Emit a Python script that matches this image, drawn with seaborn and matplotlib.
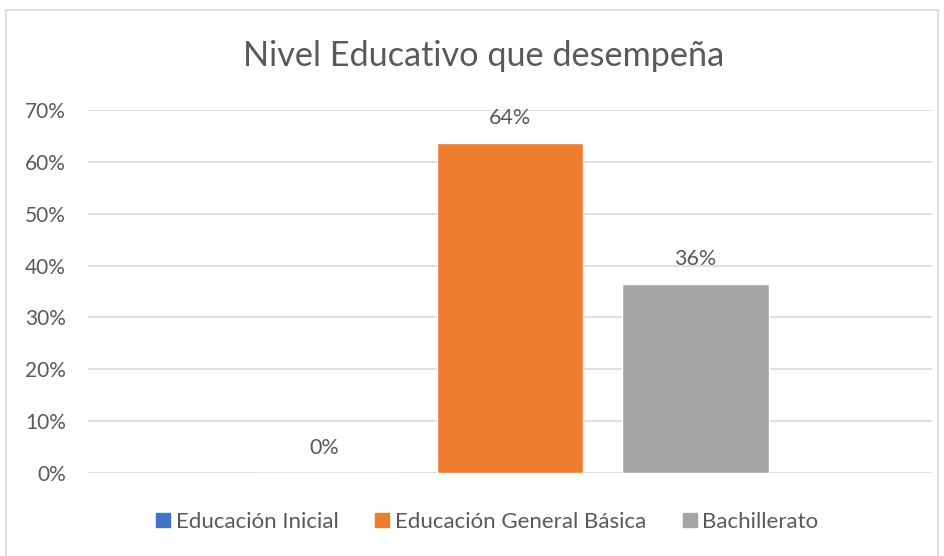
import matplotlib
matplotlib.use("Agg")
import matplotlib.pyplot as plt
import seaborn as sns
import pandas as pd
from matplotlib.patches import Rectangle

categories = ["Nivel"]
series = ["Educación Inicial", "Educación General Básica", "Bachillerato"]
values = [0.0, 7 / 11, 4 / 11]
colors = ["#4472C4", "#ED7D31", "#A5A5A5"]
title = "Nivel Educativo que desempeña"
yticks = [0, 0.1, 0.2, 0.3, 0.4, 0.5, 0.6, 0.7]

sns.set_theme(style="white")
plt.rcParams["font.family"] = ["Lato", "DejaVu Sans"]
txt = "#595959"

df = pd.DataFrame({"cat": categories * len(series), "serie": series, "valor": values})

fig = plt.figure(figsize=(9.44, 5.56), dpi=100)
ax = fig.add_axes([88 / 944, 1 - 473 / 556, (932 - 88) / 944, (473 - 110) / 556])

sns.barplot(data=df, x="cat", y="valor", hue="serie", hue_order=series,
            palette=colors, width=0.659, gap=0.21, ax=ax, legend=False,
            saturation=1, errorbar=None)

ax.set_xlim(-0.5, 0.5)
ax.set_ylim(0, 0.7)
ax.set_yticks(yticks)
ax.set_yticklabels([f"{int(round(t*100))}%" for t in yticks], color=txt, fontsize=15)
ax.set_xticks([])
ax.set_xlabel("")
ax.set_ylabel("")
ax.tick_params(axis="y", length=0, pad=16)
ax.grid(axis="y", color="#D9D9D9", linewidth=1.2)
ax.set_axisbelow(True)
for s in ax.spines.values():
    s.set_visible(False)

for cont in ax.containers:
    ax.bar_label(cont, labels=[f"{v*100:.0f}%" for v in cont.datavalues],
                 padding=11, color=txt, fontsize=15.5)

fig.text(483.5 / 944, 1 - 56 / 556, title, ha="center", va="center", fontsize=24.7, color=txt)

handles = [Rectangle((0, 0), 1, 1, color=c) for c in colors]
fig.legend(handles, series, loc="center", bbox_to_anchor=(487.5 / 944, 1 - 522 / 556),
           ncol=3, frameon=False, fontsize=16, labelcolor=txt,
           handlelength=0.63, handleheight=0.63, handletextpad=0.25, columnspacing=1.65)

fig.patches.append(Rectangle((6 / 944, -0.01), (938 - 6) / 944, 1 - 10 / 556 + 0.01,
                             transform=fig.transFigure, fill=False,
                             edgecolor="#D9D9D9", linewidth=1.2))

fig.savefig("out.png", dpi=100)
